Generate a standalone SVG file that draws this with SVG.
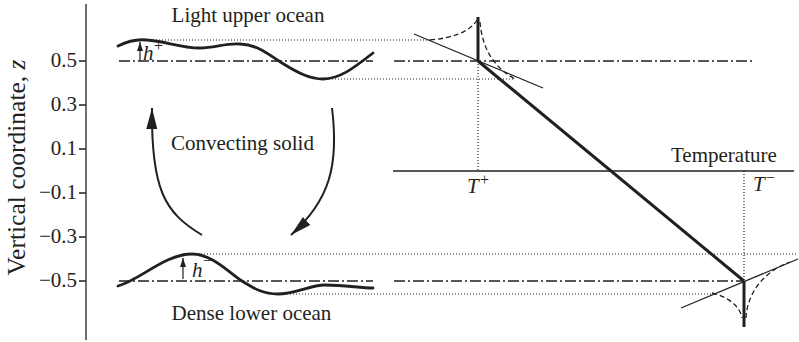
<svg xmlns="http://www.w3.org/2000/svg" width="799" height="342" viewBox="0 0 799 342">
<style>
  text { font-family: "Liberation Serif", "Times New Roman", serif; fill: #231f20; font-size: 21px; }
  .it { font-style: italic; }
  .ax { stroke: #231f20; stroke-width: 1.3; fill: none; }
  .wave { stroke: #231f20; stroke-width: 2.8; fill: none; stroke-linecap: round; }
  .thick { stroke: #231f20; stroke-width: 3; fill: none; }
  .thin { stroke: #231f20; stroke-width: 1.2; fill: none; }
  .dot { stroke: #231f20; stroke-width: 1.2; stroke-dasharray: 1 2; fill: none; }
  .dd { stroke: #231f20; stroke-width: 1.4; stroke-dasharray: 11 3 2 3; fill: none; }
  .dash { stroke: #231f20; stroke-width: 1.3; stroke-dasharray: 5 3; fill: none; }
  .arc { stroke: #231f20; stroke-width: 2; fill: none; }
</style>
<defs>
  <marker id="bigHead" markerUnits="userSpaceOnUse" markerWidth="22" markerHeight="13" viewBox="0 0 22 13" refX="21" refY="6.5" orient="auto">
    <path d="M0,1 L21,6.5 L0,12 z" fill="#231f20"/>
  </marker>
  <marker id="smallHead" markerUnits="userSpaceOnUse" markerWidth="10" markerHeight="8" viewBox="0 0 10 8" refX="9" refY="4" orient="auto">
    <path d="M0,1 L9,4 L0,7 z" fill="#231f20"/>
  </marker>
</defs>

<g id="z-axis">
  <line class="ax" x1="86" y1="4" x2="86" y2="340"/>
  <path class="ax" d="M79,61 H86 M79,105 H86 M79,149 H86 M79,193 H86 M79,237 H86 M79,281 H86"/>
  <g text-anchor="end">
    <text x="77" y="67">0.5</text>
    <text x="77" y="111">0.3</text>
    <text x="77" y="155">0.1</text>
    <text x="77" y="199">−0.1</text>
    <text x="77" y="243">−0.3</text>
    <text x="77" y="287">−0.5</text>
  </g>
  <text transform="translate(25,167.5) rotate(-90)" text-anchor="middle" style="font-size:25.5px">Vertical coordinate, <tspan class="it">z</tspan></text>
</g>

<g id="upper-ocean">
  <text x="248" y="22" text-anchor="middle">Light upper ocean</text>
  <line class="dd" x1="119" y1="61" x2="373" y2="61"/>
  <line class="dot" x1="147" y1="40" x2="430" y2="40"/>
  <line class="dot" x1="323" y1="79" x2="513" y2="79"/>
  <path class="wave" d="M118,46 C128,41 138,39 147,40 C165,41 180,48 200,48 C215,48 225,43 240,44 C260,45 270,56 282,63 C298,73 310,79 323,79 C340,79 355,67 373,53"/>
  <line class="thin" x1="140" y1="61" x2="140" y2="42" marker-end="url(#smallHead)" stroke-width="1.6"/>
  <text x="143" y="60" class="it">h</text>
  <text x="154" y="51" style="font-size:16px">+</text>
</g>

<g id="lower-ocean">
  <text x="251.5" y="320" text-anchor="middle">Dense lower ocean</text>
  <line class="dd" x1="119" y1="281" x2="373" y2="281"/>
  <line class="dot" x1="192" y1="254" x2="798" y2="254"/>
  <line class="dot" x1="275" y1="294" x2="712" y2="294"/>
  <path class="wave" d="M118,286 C140,280 165,254 192,254 C212,254 228,272 242,281 C255,289 263,294 278,294 C295,294 310,285 325,285 C345,285 360,288 373,288"/>
  <line class="thin" x1="183" y1="279" x2="183" y2="258" marker-end="url(#smallHead)" stroke-width="1.6"/>
  <text x="192" y="277" class="it">h</text>
  <text x="203" y="266" style="font-size:16px">−</text>
</g>

<g id="convecting-solid">
  <text x="242.5" y="150" text-anchor="middle">Convecting solid</text>
</g>

<g id="temperature-profile">
  <line class="ax" x1="393" y1="171" x2="794" y2="171"/>
  <text x="671" y="162">Temperature</text>
  <line class="dd" x1="394" y1="61" x2="752" y2="61"/>
  <line class="dd" x1="394" y1="281" x2="744" y2="281"/>
  <line class="dot" x1="478" y1="61" x2="478" y2="171"/>
  <line class="dot" x1="744" y1="171" x2="744" y2="281"/>
  <text x="467" y="193" class="it">T</text>
  <text x="480" y="185" style="font-size:16px">+</text>
  <text x="753" y="191" class="it">T</text>
  <text x="766" y="183" style="font-size:16px">−</text>
  <line class="thick" x1="478" y1="17" x2="478" y2="61"/>
  <line class="thick" x1="478" y1="61" x2="744" y2="281"/>
  <line class="thick" x1="744" y1="281" x2="744" y2="327"/>
  <line class="thin" x1="414" y1="34" x2="543" y2="88"/>
  <line class="thin" x1="681" y1="308" x2="798" y2="259"/>
  <path class="dash" d="M430,40 C452,38 470,32 477,20"/>
  <path class="dash" d="M480,22 C482,45 491,66 515,79"/>
  <path class="dash" d="M712,293 C728,297 740,306 742,318"/>
  <path class="dash" d="M746,318 C747,295 762,272 790,262"/>
</g>

<g id="connectors">
  <path class="arc" d="M202,235 C165,213 151,190 152,108" marker-end="url(#bigHead)"/>
  <path class="arc" d="M332,108 C339,165 330,200 291,235" marker-end="url(#bigHead)"/>
</g>
</svg>
